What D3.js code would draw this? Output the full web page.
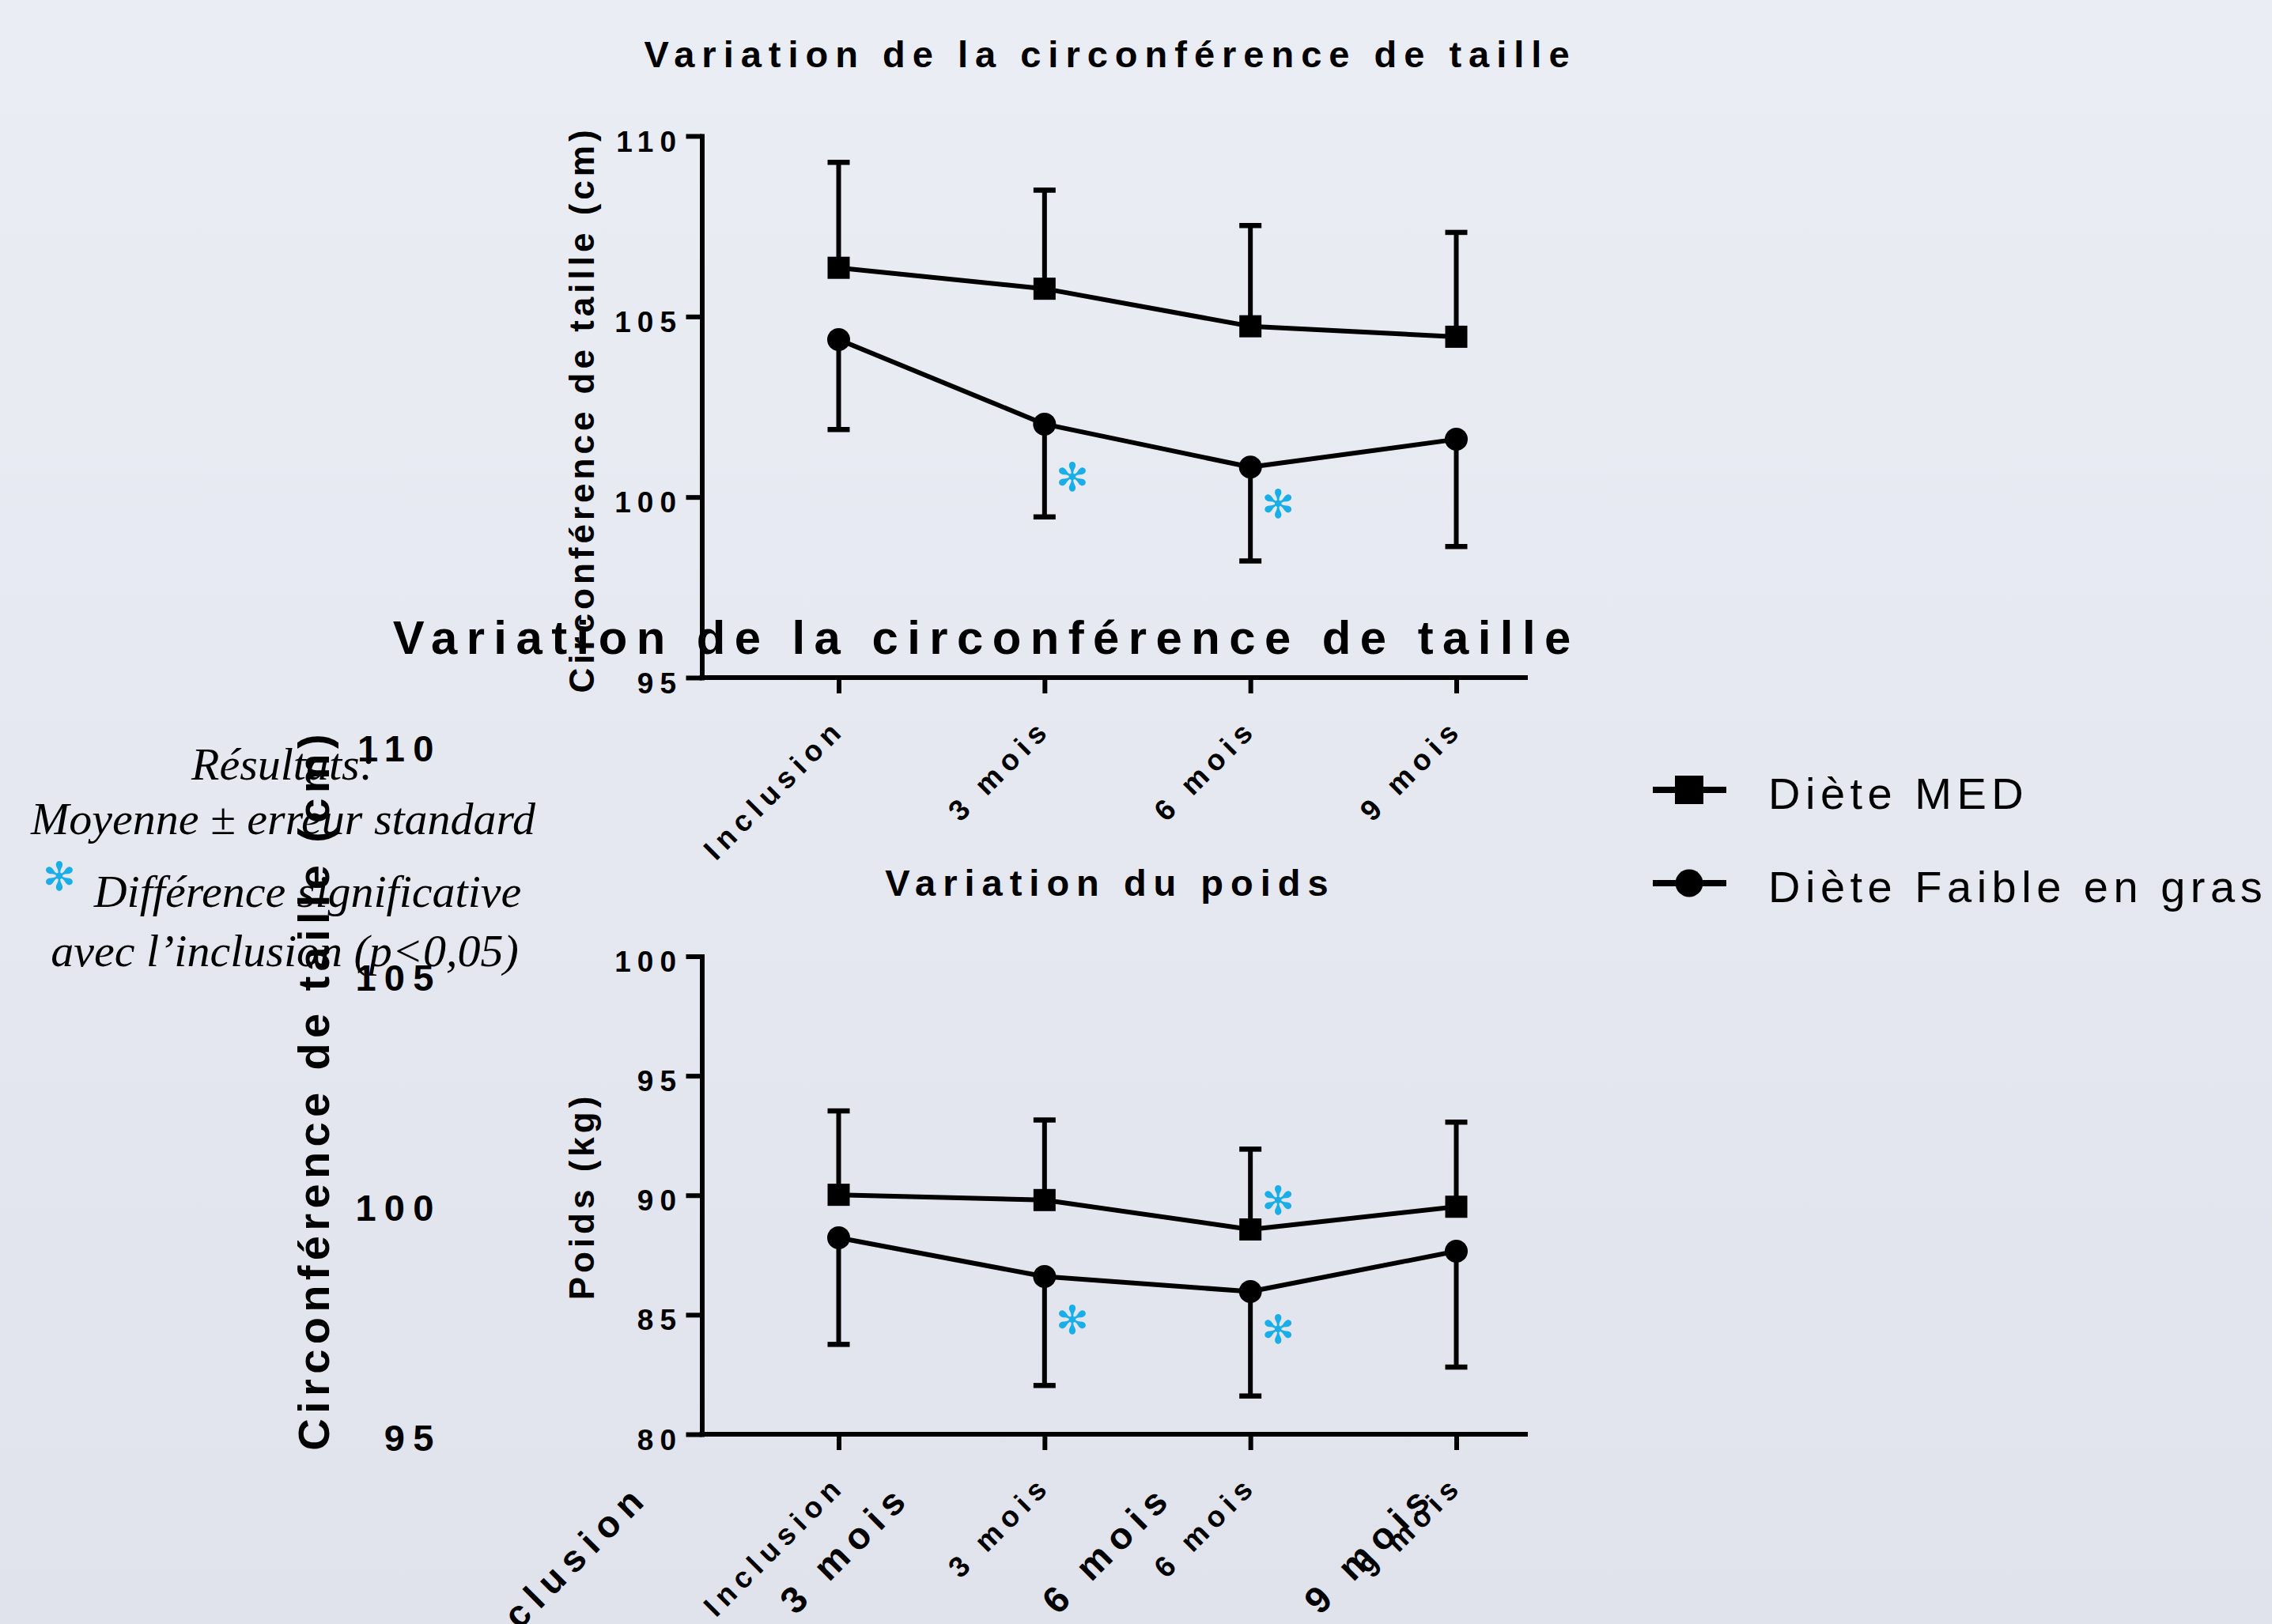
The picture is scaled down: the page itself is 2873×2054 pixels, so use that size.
<!DOCTYPE html>
<html><head><meta charset="utf-8">
<script src="https://cdn.jsdelivr.net/npm/d3@7"></script>
<style>html,body{margin:0;padding:0;overflow:hidden;background:#e6e9f0}</style>
</head><body>
<svg id="chart" width="2873" height="2054"></svg>
<script>
// ---------- data ----------
const categories = ["Inclusion", "3 mois", "6 mois", "9 mois"];
const seriesNames = ["Diète MED", "Diète Faible en gras"];

const tailleTitle = "Variation de la circonférence de taille";
const tailleLabel = "Circonférence de taille (cm)";
const tailleTicks = [95, 100, 105, 110];
const tailleMed = [106.35, 105.77, 104.73, 104.44];
const tailleMedErr = [2.92, 2.73, 2.79, 2.89];
const tailleFaible = [104.36, 102.02, 100.83, 101.6];
const tailleFaibleErr = [2.49, 2.57, 2.60, 2.97];
const tailleSig = [["3 mois", 100.54], ["6 mois", 99.8]];

const poidsTitle = "Variation du poids";
const poidsLabel = "Poids (kg)";
const poidsTicks = [80, 85, 90, 95, 100];
const poidsMed = [90.02, 89.8, 88.57, 89.52];
const poidsMedErr = [3.51, 3.35, 3.36, 3.54];
const poidsFaible = [88.22, 86.6, 85.97, 87.66];
const poidsFaibleErr = [4.46, 4.56, 4.37, 4.85];
const poidsSig = [["3 mois", 84.76], ["6 mois", 89.76], ["6 mois", 84.37]];

const noteLines = ["Résultats:", "Moyenne ± erreur standard", "Différence significative", "avec l’inclusion (p<0,05)"];

// ---------- setup ----------
const W = 2873, H = 2054;
const FONT = '"Liberation Sans", Arial, Helvetica, sans-serif';
const SERIF = '"Liberation Serif", "Times New Roman", Times, serif';
const BLUE = "#1aaee8";
const STAR = "\u273B";
const svg = d3.select("#chart");
const defs = svg.append("defs");
const grad = defs.append("linearGradient").attr("id", "bg").attr("x1", 0).attr("y1", 0).attr("x2", 0).attr("y2", 1);
grad.append("stop").attr("offset", "0%").attr("stop-color", "#eaedf4");
grad.append("stop").attr("offset", "100%").attr("stop-color", "#e0e3eb");
svg.append("rect").attr("width", W).attr("height", H).attr("fill", "url(#bg)");

const x = d3.scalePoint().domain(categories).range([1060.5, 1841.5]);
const AXIS_X = 887.5, AXIS_END = 1929;

function drawPanel(root, cfg, textOnly) {
  const y = d3.scaleLinear().domain(cfg.domain).range(cfg.range);
  const g = root.append("g");
  g.append("text").attr("x", 1404).attr("y", cfg.titleY).attr("text-anchor", "middle")
    .style("font-family", FONT).style("font-weight", "bold").style("font-size", "47px")
    .style("letter-spacing", "9px").attr("fill", "#000").text(cfg.title);
  g.append("text").attr("transform", `translate(751,${cfg.labelY}) rotate(-90)`).attr("text-anchor", "middle")
    .style("font-family", FONT).style("font-weight", "bold").style("font-size", "44px")
    .style("letter-spacing", "5px").attr("fill", "#000").text(cfg.ylabel);

  const ya = g.append("g").attr("transform", `translate(${AXIS_X},0)`)
    .call(d3.axisLeft(y).tickValues(cfg.ticks).tickSize(20).tickSizeOuter(0).tickFormat(d3.format("d")));
  ya.selectAll("text").attr("x", -24.5).attr("dy", null).attr("y", 19)
    .style("font-family", FONT).style("font-weight", "bold").style("font-size", "37px")
    .style("letter-spacing", "8px").attr("fill", "#000");
  ya.selectAll("line").attr("stroke", "#000").attr("stroke-width", 6);
  ya.select(".domain").attr("stroke", "#000").attr("stroke-width", 6).attr("stroke-linecap", "square");

  const xa = g.append("g").attr("transform", `translate(0,${cfg.range[0]})`)
    .call(d3.axisBottom(x).tickSize(20).tickSizeOuter(0));
  xa.select(".domain").remove();
  xa.selectAll("line").attr("stroke", "#000").attr("stroke-width", 6);
  xa.selectAll("text").attr("x", 0).attr("y", 0).attr("dy", null)
    .attr("transform", "translate(10,67) rotate(-45)").attr("text-anchor", "end")
    .style("font-family", FONT).style("font-weight", "bold").style("font-size", "37px")
    .style("letter-spacing", "8px").attr("fill", "#000");
  const xl = g.append("line").attr("x1", AXIS_X).attr("x2", AXIS_END)
    .attr("y1", cfg.range[0]).attr("y2", cfg.range[0])
    .attr("stroke", "#000").attr("stroke-width", 6).attr("stroke-linecap", "square");

  if (textOnly) {
    ya.selectAll("line").remove(); ya.select(".domain").remove();
    xa.selectAll("line").remove(); xl.remove();
    return;
  }

  const series = [
    { vals: cfg.med, err: cfg.medErr, dir: 1, shape: "square" },
    { vals: cfg.faible, err: cfg.faibleErr, dir: -1, shape: "circle" }
  ];
  const line = d3.line().x((d, i) => x(categories[i])).y(d => y(d));
  series.forEach(s => {
    const eg = g.append("g");
    s.vals.forEach((v, i) => {
      const cx = x(categories[i]);
      const yEnd = y(v + s.dir * s.err[i]);
      eg.append("line").attr("x1", cx).attr("x2", cx).attr("y1", y(v)).attr("y2", yEnd)
        .attr("stroke", "#000").attr("stroke-width", 6);
      eg.append("line").attr("x1", cx - 14).attr("x2", cx + 14).attr("y1", yEnd).attr("y2", yEnd)
        .attr("stroke", "#000").attr("stroke-width", 6.5);
    });
    g.append("path").datum(s.vals).attr("d", line).attr("fill", "none")
      .attr("stroke", "#000").attr("stroke-width", 6).attr("stroke-linejoin", "round");
    s.vals.forEach((v, i) => {
      const cx = x(categories[i]);
      if (s.shape === "square") {
        g.append("rect").attr("x", cx - 14).attr("y", y(v) - 14).attr("width", 28).attr("height", 28).attr("fill", "#000");
      } else {
        g.append("circle").attr("cx", cx).attr("cy", y(v)).attr("r", 14.5).attr("fill", "#000");
      }
    });
  });
  cfg.sig.forEach(([c, v]) => {
    g.append("text").attr("x", x(c) + 35).attr("y", y(v)).attr("text-anchor", "middle")
      .attr("dominant-baseline", "central").style("font-family", '"DejaVu Sans", sans-serif')
      .style("font-size", "50px").attr("fill", BLUE).text(STAR);
  });
}

const tailleCfg = {
  domain: [95, 110], range: [857, 172], ticks: tailleTicks, title: tailleTitle, titleY: 85,
  ylabel: tailleLabel, labelY: 518, med: tailleMed, medErr: tailleMedErr,
  faible: tailleFaible, faibleErr: tailleFaibleErr, sig: tailleSig
};
const poidsCfg = {
  domain: [80, 100], range: [1814, 1209.5], ticks: poidsTicks, title: poidsTitle, titleY: 1132.7,
  ylabel: poidsLabel, labelY: 1513, med: poidsMed, medErr: poidsMedErr,
  faible: poidsFaible, faibleErr: poidsFaibleErr, sig: poidsSig
};

// ghost copy (text only, enlarged)
drawPanel(svg.append("g").attr("transform", "translate(-540,719) scale(1.273)"), tailleCfg, true);
drawPanel(svg.append("g"), tailleCfg, false);
drawPanel(svg.append("g"), poidsCfg, false);

// legend
const leg = svg.append("g");
[999, 1117].forEach((ly, i) => {
  leg.append("line").attr("x1", 2090).attr("x2", 2183).attr("y1", ly).attr("y2", ly)
    .attr("stroke", "#000").attr("stroke-width", 8);
  if (i === 0) leg.append("rect").attr("x", 2118).attr("y", ly - 18).attr("width", 36).attr("height", 36).attr("fill", "#000");
  else leg.append("circle").attr("cx", 2136).attr("cy", ly).attr("r", 17.5).attr("fill", "#000");
  leg.append("text").attr("x", 2236).attr("y", ly + 24).style("font-family", FONT)
    .style("font-size", "56px").style("letter-spacing", "6.5px").attr("fill", "#000").text(seriesNames[i]);
});

// notes
const nt = svg.append("g").style("font-family", SERIF).style("font-style", "italic").style("font-size", "58px").attr("fill", "#000");
nt.append("text").attr("x", 358).attr("y", 986).attr("text-anchor", "middle").text(noteLines[0]);
nt.append("text").attr("x", 358).attr("y", 1055).attr("text-anchor", "middle").text(noteLines[1]);
nt.append("text").attr("x", 389).attr("y", 1146.7).attr("text-anchor", "middle").text(noteLines[2]);
nt.append("text").attr("x", 360).attr("y", 1221.7).attr("text-anchor", "middle").text(noteLines[3]);
svg.append("text").attr("x", 75).attr("y", 1109).attr("text-anchor", "middle").attr("dominant-baseline", "central")
  .style("font-family", '"DejaVu Sans", sans-serif').style("font-size", "50px").attr("fill", BLUE).text(STAR);
</script>
</body></html>
